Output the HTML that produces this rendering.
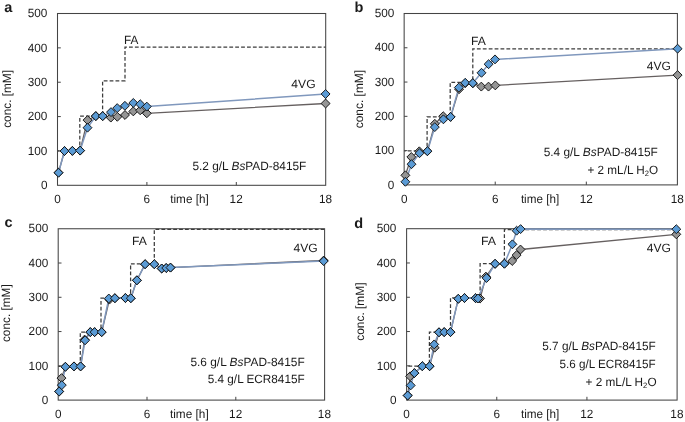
<!DOCTYPE html>
<html><head><meta charset="utf-8"><style>
html,body{margin:0;padding:0;background:#fff;}
body{width:685px;height:422px;overflow:hidden;}
svg{display:block;will-change:transform;}
text{font-family:"Liberation Sans", sans-serif;font-size:12.0px;fill:#1a1a1a;text-rendering:geometricPrecision;}
</style></head><body>
<svg width="685" height="422" viewBox="0 0 685 422">
<rect width="685" height="422" fill="#fff"/>
<path d="M57.5 150.8 L79.8 150.8 L79.8 116.2 L102.6 116.2 L102.6 80.8 L125 80.8 L125 47.1 L325.7 47.1" fill="none" stroke="#3c3c3c" stroke-width="1.25" stroke-dasharray="3.8 2.1" stroke-dashoffset="1.8"/>
<rect x="57.5" y="13.5" width="268.2" height="171.8" fill="none" stroke="#444444" stroke-width="1.05"/>
<path d="M57.5 150.94H60.8" stroke="#444444" stroke-width="1"/>
<path d="M57.5 116.58H60.8" stroke="#444444" stroke-width="1"/>
<path d="M57.5 82.22H60.8" stroke="#444444" stroke-width="1"/>
<path d="M57.5 47.86H60.8" stroke="#444444" stroke-width="1"/>
<path d="M146.9 185.3V182" stroke="#444444" stroke-width="1"/>
<path d="M236.3 185.3V182" stroke="#444444" stroke-width="1"/>
<path d="M58.5 172.7 L64.5 151 L72.4 150.9 L80.1 150.6 L87.5 120.1 L95.8 116.1 L102.7 116.1 L110.8 117.6 L117.3 116.8 L125 115 L133.3 111.4 L140.2 110.3 L146.8 113.3 L325.6 103.5" fill="none" stroke="#666060" stroke-width="1.3" stroke-linejoin="round"/>
<path d="M58.5 172.7 L64.5 151 L72.4 150.9 L80.1 150.6 L87.5 127.7 L95.8 116.1 L102.7 116.1 L111 112.1 L117.2 108.1 L124.9 105.8 L133.3 102.95 L140.2 104.2 L146.8 106.6 L325.6 94" fill="none" stroke="#8098bd" stroke-width="1.5" stroke-linejoin="round"/>
<path d="M58.5 168.25L62.95 172.7L58.5 177.15L54.05 172.7Z" fill="#959595" stroke="#111" stroke-width="0.95"/>
<path d="M64.5 146.55L68.95 151L64.5 155.45L60.05 151Z" fill="#959595" stroke="#111" stroke-width="0.95"/>
<path d="M72.4 146.45L76.85 150.9L72.4 155.35L67.95 150.9Z" fill="#959595" stroke="#111" stroke-width="0.95"/>
<path d="M80.1 146.15L84.55 150.6L80.1 155.05L75.65 150.6Z" fill="#959595" stroke="#111" stroke-width="0.95"/>
<path d="M87.5 115.65L91.95 120.1L87.5 124.55L83.05 120.1Z" fill="#959595" stroke="#111" stroke-width="0.95"/>
<path d="M95.8 111.65L100.25 116.1L95.8 120.55L91.35 116.1Z" fill="#959595" stroke="#111" stroke-width="0.95"/>
<path d="M102.7 111.65L107.15 116.1L102.7 120.55L98.25 116.1Z" fill="#959595" stroke="#111" stroke-width="0.95"/>
<path d="M110.8 113.15L115.25 117.6L110.8 122.05L106.35 117.6Z" fill="#959595" stroke="#111" stroke-width="0.95"/>
<path d="M117.3 112.35L121.75 116.8L117.3 121.25L112.85 116.8Z" fill="#959595" stroke="#111" stroke-width="0.95"/>
<path d="M125 110.55L129.45 115L125 119.45L120.55 115Z" fill="#959595" stroke="#111" stroke-width="0.95"/>
<path d="M133.3 106.95L137.75 111.4L133.3 115.85L128.85 111.4Z" fill="#959595" stroke="#111" stroke-width="0.95"/>
<path d="M140.2 105.85L144.65 110.3L140.2 114.75L135.75 110.3Z" fill="#959595" stroke="#111" stroke-width="0.95"/>
<path d="M146.8 108.85L151.25 113.3L146.8 117.75L142.35 113.3Z" fill="#959595" stroke="#111" stroke-width="0.95"/>
<path d="M325.6 99.05L330.05 103.5L325.6 107.95L321.15 103.5Z" fill="#959595" stroke="#111" stroke-width="0.95"/>
<path d="M58.5 168.25L62.95 172.7L58.5 177.15L54.05 172.7Z" fill="#5b9bd5" stroke="#111" stroke-width="0.95"/>
<path d="M64.5 146.55L68.95 151L64.5 155.45L60.05 151Z" fill="#5b9bd5" stroke="#111" stroke-width="0.95"/>
<path d="M72.4 146.45L76.85 150.9L72.4 155.35L67.95 150.9Z" fill="#5b9bd5" stroke="#111" stroke-width="0.95"/>
<path d="M80.1 146.15L84.55 150.6L80.1 155.05L75.65 150.6Z" fill="#5b9bd5" stroke="#111" stroke-width="0.95"/>
<path d="M87.5 123.25L91.95 127.7L87.5 132.15L83.05 127.7Z" fill="#5b9bd5" stroke="#111" stroke-width="0.95"/>
<path d="M95.8 111.65L100.25 116.1L95.8 120.55L91.35 116.1Z" fill="#5b9bd5" stroke="#111" stroke-width="0.95"/>
<path d="M102.7 111.65L107.15 116.1L102.7 120.55L98.25 116.1Z" fill="#5b9bd5" stroke="#111" stroke-width="0.95"/>
<path d="M111 107.65L115.45 112.1L111 116.55L106.55 112.1Z" fill="#5b9bd5" stroke="#111" stroke-width="0.95"/>
<path d="M117.2 103.65L121.65 108.1L117.2 112.55L112.75 108.1Z" fill="#5b9bd5" stroke="#111" stroke-width="0.95"/>
<path d="M124.9 101.35L129.35 105.8L124.9 110.25L120.45 105.8Z" fill="#5b9bd5" stroke="#111" stroke-width="0.95"/>
<path d="M133.3 98.5L137.75 102.95L133.3 107.4L128.85 102.95Z" fill="#5b9bd5" stroke="#111" stroke-width="0.95"/>
<path d="M140.2 99.75L144.65 104.2L140.2 108.65L135.75 104.2Z" fill="#5b9bd5" stroke="#111" stroke-width="0.95"/>
<path d="M146.8 102.15L151.25 106.6L146.8 111.05L142.35 106.6Z" fill="#5b9bd5" stroke="#111" stroke-width="0.95"/>
<path d="M325.6 89.55L330.05 94L325.6 98.45L321.15 94Z" fill="#5b9bd5" stroke="#111" stroke-width="0.95"/>
<text x="4.3" y="11.6" style="font-weight:bold;font-size:14.5px">a</text>
<path d="M404.3 150.8 L427.1 150.8 L427.1 116.9 L450.2 116.9 L450.2 82.3 L472.8 82.3 L472.8 48.8 L677.4 48.8" fill="none" stroke="#3c3c3c" stroke-width="1.25" stroke-dasharray="3.8 2.1" stroke-dashoffset="2.4"/>
<rect x="404.15" y="13.5" width="273.25" height="171.4" fill="none" stroke="#444444" stroke-width="1.05"/>
<path d="M404.15 150.62H407.45" stroke="#444444" stroke-width="1"/>
<path d="M404.15 116.34H407.45" stroke="#444444" stroke-width="1"/>
<path d="M404.15 82.06H407.45" stroke="#444444" stroke-width="1"/>
<path d="M404.15 47.78H407.45" stroke="#444444" stroke-width="1"/>
<path d="M495.23 184.9V181.6" stroke="#444444" stroke-width="1"/>
<path d="M586.32 184.9V181.6" stroke="#444444" stroke-width="1"/>
<path d="M405.4 175.3 L411.3 157 L419.3 151.3 L427.4 151.2 L434.8 123.8 L443.2 116.2 L450.6 116.9 L459.1 89.2 L465.2 83.2 L472.8 83.3 L481.3 86.6 L488.5 86.6 L495.3 85.4 L677.6 75.1" fill="none" stroke="#666060" stroke-width="1.3" stroke-linejoin="round"/>
<path d="M405.4 181.8 L411.5 164.2 L419.5 153.2 L427.4 151.2 L434.8 127.1 L443.4 119.3 L450.6 116.9 L458.8 87.6 L465.2 82.8 L472.8 83.1 L481.5 72.8 L488.6 64.2 L495 59.4 L677.6 48.7" fill="none" stroke="#8098bd" stroke-width="1.5" stroke-linejoin="round"/>
<path d="M405.4 170.85L409.85 175.3L405.4 179.75L400.95 175.3Z" fill="#959595" stroke="#111" stroke-width="0.95"/>
<path d="M411.3 152.55L415.75 157L411.3 161.45L406.85 157Z" fill="#959595" stroke="#111" stroke-width="0.95"/>
<path d="M419.3 146.85L423.75 151.3L419.3 155.75L414.85 151.3Z" fill="#959595" stroke="#111" stroke-width="0.95"/>
<path d="M427.4 146.75L431.85 151.2L427.4 155.65L422.95 151.2Z" fill="#959595" stroke="#111" stroke-width="0.95"/>
<path d="M434.8 119.35L439.25 123.8L434.8 128.25L430.35 123.8Z" fill="#959595" stroke="#111" stroke-width="0.95"/>
<path d="M443.2 111.75L447.65 116.2L443.2 120.65L438.75 116.2Z" fill="#959595" stroke="#111" stroke-width="0.95"/>
<path d="M450.6 112.45L455.05 116.9L450.6 121.35L446.15 116.9Z" fill="#959595" stroke="#111" stroke-width="0.95"/>
<path d="M459.1 84.75L463.55 89.2L459.1 93.65L454.65 89.2Z" fill="#959595" stroke="#111" stroke-width="0.95"/>
<path d="M465.2 78.75L469.65 83.2L465.2 87.65L460.75 83.2Z" fill="#959595" stroke="#111" stroke-width="0.95"/>
<path d="M472.8 78.85L477.25 83.3L472.8 87.75L468.35 83.3Z" fill="#959595" stroke="#111" stroke-width="0.95"/>
<path d="M481.3 82.15L485.75 86.6L481.3 91.05L476.85 86.6Z" fill="#959595" stroke="#111" stroke-width="0.95"/>
<path d="M488.5 82.15L492.95 86.6L488.5 91.05L484.05 86.6Z" fill="#959595" stroke="#111" stroke-width="0.95"/>
<path d="M495.3 80.95L499.75 85.4L495.3 89.85L490.85 85.4Z" fill="#959595" stroke="#111" stroke-width="0.95"/>
<path d="M677.6 70.65L682.05 75.1L677.6 79.55L673.15 75.1Z" fill="#959595" stroke="#111" stroke-width="0.95"/>
<path d="M405.4 177.35L409.85 181.8L405.4 186.25L400.95 181.8Z" fill="#5b9bd5" stroke="#111" stroke-width="0.95"/>
<path d="M411.5 159.75L415.95 164.2L411.5 168.65L407.05 164.2Z" fill="#5b9bd5" stroke="#111" stroke-width="0.95"/>
<path d="M419.5 148.75L423.95 153.2L419.5 157.65L415.05 153.2Z" fill="#5b9bd5" stroke="#111" stroke-width="0.95"/>
<path d="M427.4 146.75L431.85 151.2L427.4 155.65L422.95 151.2Z" fill="#5b9bd5" stroke="#111" stroke-width="0.95"/>
<path d="M434.8 122.65L439.25 127.1L434.8 131.55L430.35 127.1Z" fill="#5b9bd5" stroke="#111" stroke-width="0.95"/>
<path d="M443.4 114.85L447.85 119.3L443.4 123.75L438.95 119.3Z" fill="#5b9bd5" stroke="#111" stroke-width="0.95"/>
<path d="M450.6 112.45L455.05 116.9L450.6 121.35L446.15 116.9Z" fill="#5b9bd5" stroke="#111" stroke-width="0.95"/>
<path d="M458.8 83.15L463.25 87.6L458.8 92.05L454.35 87.6Z" fill="#5b9bd5" stroke="#111" stroke-width="0.95"/>
<path d="M465.2 78.35L469.65 82.8L465.2 87.25L460.75 82.8Z" fill="#5b9bd5" stroke="#111" stroke-width="0.95"/>
<path d="M472.8 78.65L477.25 83.1L472.8 87.55L468.35 83.1Z" fill="#5b9bd5" stroke="#111" stroke-width="0.95"/>
<path d="M481.5 68.35L485.95 72.8L481.5 77.25L477.05 72.8Z" fill="#5b9bd5" stroke="#111" stroke-width="0.95"/>
<path d="M488.6 59.75L493.05 64.2L488.6 68.65L484.15 64.2Z" fill="#5b9bd5" stroke="#111" stroke-width="0.95"/>
<path d="M495 54.95L499.45 59.4L495 63.85L490.55 59.4Z" fill="#5b9bd5" stroke="#111" stroke-width="0.95"/>
<path d="M677.6 44.25L682.05 48.7L677.6 53.15L673.15 48.7Z" fill="#5b9bd5" stroke="#111" stroke-width="0.95"/>
<text x="354.6" y="11.6" style="font-weight:bold;font-size:14.5px">b</text>
<path d="M58.2 366.3 L80.3 366.3 L80.3 332.1 L101 332.1 L101 298 L130.6 298 L130.6 263.8 L154.3 263.8 L154.3 229.4 L324.4 229.4" fill="none" stroke="#3c3c3c" stroke-width="1.25" stroke-dasharray="3.8 2.1" stroke-dashoffset="1.8"/>
<rect x="58.2" y="228.75" width="266.4" height="171.35" fill="none" stroke="#444444" stroke-width="1.05"/>
<path d="M58.2 365.83H61.5" stroke="#444444" stroke-width="1"/>
<path d="M58.2 331.56H61.5" stroke="#444444" stroke-width="1"/>
<path d="M58.2 297.29H61.5" stroke="#444444" stroke-width="1"/>
<path d="M58.2 263.02H61.5" stroke="#444444" stroke-width="1"/>
<path d="M147 400.1V396.8" stroke="#444444" stroke-width="1"/>
<path d="M235.8 400.1V396.8" stroke="#444444" stroke-width="1"/>
<path d="M59.2 391.5 L61.5 378.1 L65.4 366.8 L74 366.4 L80.6 366.4 L84.6 339.6 L90.3 332.1 L94.6 332.1 L101.7 332.1 L109.4 299.6 L114.9 298.2 L125.4 298 L130.8 298.2 L136.9 280.3 L145.1 264.2 L154.3 264.2 L161.7 268.5 L166.2 268 L170.5 267.6 L323.7 260.5" fill="none" stroke="#666060" stroke-width="1.3" stroke-linejoin="round"/>
<path d="M59.2 391.5 L61.8 385.1 L65.4 366.8 L74 366.4 L80.6 366.4 L85.1 340.3 L90.3 332.1 L94.6 332.1 L101.7 332.1 L108.8 298.5 L114.9 298.2 L125.4 298 L130.8 298.2 L136.9 280.3 L145.1 264.2 L154.3 264.2 L161.7 268.5 L166.2 268 L170.5 267.6 L323.7 261.1" fill="none" stroke="#8098bd" stroke-width="1.5" stroke-linejoin="round"/>
<path d="M59.2 387.05L63.65 391.5L59.2 395.95L54.75 391.5Z" fill="#959595" stroke="#111" stroke-width="0.95"/>
<path d="M61.5 373.65L65.95 378.1L61.5 382.55L57.05 378.1Z" fill="#959595" stroke="#111" stroke-width="0.95"/>
<path d="M65.4 362.35L69.85 366.8L65.4 371.25L60.95 366.8Z" fill="#959595" stroke="#111" stroke-width="0.95"/>
<path d="M74 361.95L78.45 366.4L74 370.85L69.55 366.4Z" fill="#959595" stroke="#111" stroke-width="0.95"/>
<path d="M80.6 361.95L85.05 366.4L80.6 370.85L76.15 366.4Z" fill="#959595" stroke="#111" stroke-width="0.95"/>
<path d="M84.6 335.15L89.05 339.6L84.6 344.05L80.15 339.6Z" fill="#959595" stroke="#111" stroke-width="0.95"/>
<path d="M90.3 327.65L94.75 332.1L90.3 336.55L85.85 332.1Z" fill="#959595" stroke="#111" stroke-width="0.95"/>
<path d="M94.6 327.65L99.05 332.1L94.6 336.55L90.15 332.1Z" fill="#959595" stroke="#111" stroke-width="0.95"/>
<path d="M101.7 327.65L106.15 332.1L101.7 336.55L97.25 332.1Z" fill="#959595" stroke="#111" stroke-width="0.95"/>
<path d="M109.4 295.15L113.85 299.6L109.4 304.05L104.95 299.6Z" fill="#959595" stroke="#111" stroke-width="0.95"/>
<path d="M114.9 293.75L119.35 298.2L114.9 302.65L110.45 298.2Z" fill="#959595" stroke="#111" stroke-width="0.95"/>
<path d="M125.4 293.55L129.85 298L125.4 302.45L120.95 298Z" fill="#959595" stroke="#111" stroke-width="0.95"/>
<path d="M130.8 293.75L135.25 298.2L130.8 302.65L126.35 298.2Z" fill="#959595" stroke="#111" stroke-width="0.95"/>
<path d="M136.9 275.85L141.35 280.3L136.9 284.75L132.45 280.3Z" fill="#959595" stroke="#111" stroke-width="0.95"/>
<path d="M145.1 259.75L149.55 264.2L145.1 268.65L140.65 264.2Z" fill="#959595" stroke="#111" stroke-width="0.95"/>
<path d="M154.3 259.75L158.75 264.2L154.3 268.65L149.85 264.2Z" fill="#959595" stroke="#111" stroke-width="0.95"/>
<path d="M161.7 264.05L166.15 268.5L161.7 272.95L157.25 268.5Z" fill="#959595" stroke="#111" stroke-width="0.95"/>
<path d="M166.2 263.55L170.65 268L166.2 272.45L161.75 268Z" fill="#959595" stroke="#111" stroke-width="0.95"/>
<path d="M170.5 263.15L174.95 267.6L170.5 272.05L166.05 267.6Z" fill="#959595" stroke="#111" stroke-width="0.95"/>
<path d="M323.7 256.05L328.15 260.5L323.7 264.95L319.25 260.5Z" fill="#959595" stroke="#111" stroke-width="0.95"/>
<path d="M59.2 387.05L63.65 391.5L59.2 395.95L54.75 391.5Z" fill="#5b9bd5" stroke="#111" stroke-width="0.95"/>
<path d="M61.8 380.65L66.25 385.1L61.8 389.55L57.35 385.1Z" fill="#5b9bd5" stroke="#111" stroke-width="0.95"/>
<path d="M65.4 362.35L69.85 366.8L65.4 371.25L60.95 366.8Z" fill="#5b9bd5" stroke="#111" stroke-width="0.95"/>
<path d="M74 361.95L78.45 366.4L74 370.85L69.55 366.4Z" fill="#5b9bd5" stroke="#111" stroke-width="0.95"/>
<path d="M80.6 361.95L85.05 366.4L80.6 370.85L76.15 366.4Z" fill="#5b9bd5" stroke="#111" stroke-width="0.95"/>
<path d="M85.1 335.85L89.55 340.3L85.1 344.75L80.65 340.3Z" fill="#5b9bd5" stroke="#111" stroke-width="0.95"/>
<path d="M90.3 327.65L94.75 332.1L90.3 336.55L85.85 332.1Z" fill="#5b9bd5" stroke="#111" stroke-width="0.95"/>
<path d="M94.6 327.65L99.05 332.1L94.6 336.55L90.15 332.1Z" fill="#5b9bd5" stroke="#111" stroke-width="0.95"/>
<path d="M101.7 327.65L106.15 332.1L101.7 336.55L97.25 332.1Z" fill="#5b9bd5" stroke="#111" stroke-width="0.95"/>
<path d="M108.8 294.05L113.25 298.5L108.8 302.95L104.35 298.5Z" fill="#5b9bd5" stroke="#111" stroke-width="0.95"/>
<path d="M114.9 293.75L119.35 298.2L114.9 302.65L110.45 298.2Z" fill="#5b9bd5" stroke="#111" stroke-width="0.95"/>
<path d="M125.4 293.55L129.85 298L125.4 302.45L120.95 298Z" fill="#5b9bd5" stroke="#111" stroke-width="0.95"/>
<path d="M130.8 293.75L135.25 298.2L130.8 302.65L126.35 298.2Z" fill="#5b9bd5" stroke="#111" stroke-width="0.95"/>
<path d="M136.9 275.85L141.35 280.3L136.9 284.75L132.45 280.3Z" fill="#5b9bd5" stroke="#111" stroke-width="0.95"/>
<path d="M145.1 259.75L149.55 264.2L145.1 268.65L140.65 264.2Z" fill="#5b9bd5" stroke="#111" stroke-width="0.95"/>
<path d="M154.3 259.75L158.75 264.2L154.3 268.65L149.85 264.2Z" fill="#5b9bd5" stroke="#111" stroke-width="0.95"/>
<path d="M161.7 264.05L166.15 268.5L161.7 272.95L157.25 268.5Z" fill="#5b9bd5" stroke="#111" stroke-width="0.95"/>
<path d="M166.2 263.55L170.65 268L166.2 272.45L161.75 268Z" fill="#5b9bd5" stroke="#111" stroke-width="0.95"/>
<path d="M170.5 263.15L174.95 267.6L170.5 272.05L166.05 267.6Z" fill="#5b9bd5" stroke="#111" stroke-width="0.95"/>
<path d="M323.7 256.65L328.15 261.1L323.7 265.55L319.25 261.1Z" fill="#5b9bd5" stroke="#111" stroke-width="0.95"/>
<text x="4.5" y="227.3" style="font-weight:bold;font-size:14.5px">c</text>
<path d="M406.6 366.2 L429.4 366.2 L429.4 332.2 L450.5 332.2 L450.5 297.8 L480.1 297.8 L480.1 263.7 L504.4 263.7 L504.4 229.5 L677.1 229.5" fill="none" stroke="#3c3c3c" stroke-width="1.25" stroke-dasharray="3.8 2.1" stroke-dashoffset="4.1"/>
<rect x="406.6" y="228.7" width="270.5" height="171.4" fill="none" stroke="#444444" stroke-width="1.05"/>
<path d="M406.6 365.82H409.9" stroke="#444444" stroke-width="1"/>
<path d="M406.6 331.54H409.9" stroke="#444444" stroke-width="1"/>
<path d="M406.6 297.26H409.9" stroke="#444444" stroke-width="1"/>
<path d="M406.6 262.98H409.9" stroke="#444444" stroke-width="1"/>
<path d="M496.77 400.1V396.8" stroke="#444444" stroke-width="1"/>
<path d="M586.93 400.1V396.8" stroke="#444444" stroke-width="1"/>
<path d="M407.7 395.5 L410.1 376.3 L414.4 373.1 L422.3 366.2 L429.6 366.2 L434.7 347.7 L439 332.3 L444.2 332.1 L450.5 332.1 L458.3 298.8 L464.5 298 L475.6 298.2 L480.1 298.5 L485.9 276.6 L495.1 263.8 L504.4 263.7 L512.2 261 L516.6 255.1 L520.5 249.5 L676.3 234.3" fill="none" stroke="#666060" stroke-width="1.3" stroke-linejoin="round"/>
<path d="M407.7 395.5 L410.7 385.4 L414.4 373.1 L422.3 366.2 L429.6 366.2 L434.2 344.4 L439 332.3 L444.2 332.1 L450.5 332.1 L458.3 298.8 L464.5 298 L475.6 298.2 L478 298.5 L486.6 278 L495.1 263.8 L504.4 263.7 L512.4 244.3 L516.6 230.7 L520.6 229.1 L676.3 229.2" fill="none" stroke="#8098bd" stroke-width="1.5" stroke-linejoin="round"/>
<path d="M407.7 391.05L412.15 395.5L407.7 399.95L403.25 395.5Z" fill="#959595" stroke="#111" stroke-width="0.95"/>
<path d="M410.1 371.85L414.55 376.3L410.1 380.75L405.65 376.3Z" fill="#959595" stroke="#111" stroke-width="0.95"/>
<path d="M414.4 368.65L418.85 373.1L414.4 377.55L409.95 373.1Z" fill="#959595" stroke="#111" stroke-width="0.95"/>
<path d="M422.3 361.75L426.75 366.2L422.3 370.65L417.85 366.2Z" fill="#959595" stroke="#111" stroke-width="0.95"/>
<path d="M429.6 361.75L434.05 366.2L429.6 370.65L425.15 366.2Z" fill="#959595" stroke="#111" stroke-width="0.95"/>
<path d="M434.7 343.25L439.15 347.7L434.7 352.15L430.25 347.7Z" fill="#959595" stroke="#111" stroke-width="0.95"/>
<path d="M439 327.85L443.45 332.3L439 336.75L434.55 332.3Z" fill="#959595" stroke="#111" stroke-width="0.95"/>
<path d="M444.2 327.65L448.65 332.1L444.2 336.55L439.75 332.1Z" fill="#959595" stroke="#111" stroke-width="0.95"/>
<path d="M450.5 327.65L454.95 332.1L450.5 336.55L446.05 332.1Z" fill="#959595" stroke="#111" stroke-width="0.95"/>
<path d="M458.3 294.35L462.75 298.8L458.3 303.25L453.85 298.8Z" fill="#959595" stroke="#111" stroke-width="0.95"/>
<path d="M464.5 293.55L468.95 298L464.5 302.45L460.05 298Z" fill="#959595" stroke="#111" stroke-width="0.95"/>
<path d="M475.6 293.75L480.05 298.2L475.6 302.65L471.15 298.2Z" fill="#959595" stroke="#111" stroke-width="0.95"/>
<path d="M480.1 294.05L484.55 298.5L480.1 302.95L475.65 298.5Z" fill="#959595" stroke="#111" stroke-width="0.95"/>
<path d="M485.9 272.15L490.35 276.6L485.9 281.05L481.45 276.6Z" fill="#959595" stroke="#111" stroke-width="0.95"/>
<path d="M495.1 259.35L499.55 263.8L495.1 268.25L490.65 263.8Z" fill="#959595" stroke="#111" stroke-width="0.95"/>
<path d="M504.4 259.25L508.85 263.7L504.4 268.15L499.95 263.7Z" fill="#959595" stroke="#111" stroke-width="0.95"/>
<path d="M512.2 256.55L516.65 261L512.2 265.45L507.75 261Z" fill="#959595" stroke="#111" stroke-width="0.95"/>
<path d="M516.6 250.65L521.05 255.1L516.6 259.55L512.15 255.1Z" fill="#959595" stroke="#111" stroke-width="0.95"/>
<path d="M520.5 245.05L524.95 249.5L520.5 253.95L516.05 249.5Z" fill="#959595" stroke="#111" stroke-width="0.95"/>
<path d="M676.3 229.85L680.75 234.3L676.3 238.75L671.85 234.3Z" fill="#959595" stroke="#111" stroke-width="0.95"/>
<path d="M407.7 391.05L412.15 395.5L407.7 399.95L403.25 395.5Z" fill="#5b9bd5" stroke="#111" stroke-width="0.95"/>
<path d="M410.7 380.95L415.15 385.4L410.7 389.85L406.25 385.4Z" fill="#5b9bd5" stroke="#111" stroke-width="0.95"/>
<path d="M414.4 368.65L418.85 373.1L414.4 377.55L409.95 373.1Z" fill="#5b9bd5" stroke="#111" stroke-width="0.95"/>
<path d="M422.3 361.75L426.75 366.2L422.3 370.65L417.85 366.2Z" fill="#5b9bd5" stroke="#111" stroke-width="0.95"/>
<path d="M429.6 361.75L434.05 366.2L429.6 370.65L425.15 366.2Z" fill="#5b9bd5" stroke="#111" stroke-width="0.95"/>
<path d="M434.2 339.95L438.65 344.4L434.2 348.85L429.75 344.4Z" fill="#5b9bd5" stroke="#111" stroke-width="0.95"/>
<path d="M439 327.85L443.45 332.3L439 336.75L434.55 332.3Z" fill="#5b9bd5" stroke="#111" stroke-width="0.95"/>
<path d="M444.2 327.65L448.65 332.1L444.2 336.55L439.75 332.1Z" fill="#5b9bd5" stroke="#111" stroke-width="0.95"/>
<path d="M450.5 327.65L454.95 332.1L450.5 336.55L446.05 332.1Z" fill="#5b9bd5" stroke="#111" stroke-width="0.95"/>
<path d="M458.3 294.35L462.75 298.8L458.3 303.25L453.85 298.8Z" fill="#5b9bd5" stroke="#111" stroke-width="0.95"/>
<path d="M464.5 293.55L468.95 298L464.5 302.45L460.05 298Z" fill="#5b9bd5" stroke="#111" stroke-width="0.95"/>
<path d="M475.6 293.75L480.05 298.2L475.6 302.65L471.15 298.2Z" fill="#5b9bd5" stroke="#111" stroke-width="0.95"/>
<path d="M478 294.05L482.45 298.5L478 302.95L473.55 298.5Z" fill="#5b9bd5" stroke="#111" stroke-width="0.95"/>
<path d="M486.6 273.55L491.05 278L486.6 282.45L482.15 278Z" fill="#5b9bd5" stroke="#111" stroke-width="0.95"/>
<path d="M495.1 259.35L499.55 263.8L495.1 268.25L490.65 263.8Z" fill="#5b9bd5" stroke="#111" stroke-width="0.95"/>
<path d="M504.4 259.25L508.85 263.7L504.4 268.15L499.95 263.7Z" fill="#5b9bd5" stroke="#111" stroke-width="0.95"/>
<path d="M512.4 239.85L516.85 244.3L512.4 248.75L507.95 244.3Z" fill="#5b9bd5" stroke="#111" stroke-width="0.95"/>
<path d="M516.6 226.25L521.05 230.7L516.6 235.15L512.15 230.7Z" fill="#5b9bd5" stroke="#111" stroke-width="0.95"/>
<path d="M520.6 224.65L525.05 229.1L520.6 233.55L516.15 229.1Z" fill="#5b9bd5" stroke="#111" stroke-width="0.95"/>
<path d="M676.3 224.75L680.75 229.2L676.3 233.65L671.85 229.2Z" fill="#5b9bd5" stroke="#111" stroke-width="0.95"/>
<text x="354.2" y="227.7" style="font-weight:bold;font-size:14.5px">d</text>
<text x="40.88" y="189" textLength="6.54" lengthAdjust="spacingAndGlyphs">0</text>
<text x="27.8" y="154.64" textLength="19.62" lengthAdjust="spacingAndGlyphs">100</text>
<text x="27.8" y="120.28" textLength="19.62" lengthAdjust="spacingAndGlyphs">200</text>
<text x="27.8" y="85.92" textLength="19.62" lengthAdjust="spacingAndGlyphs">300</text>
<text x="27.8" y="51.56" textLength="19.62" lengthAdjust="spacingAndGlyphs">400</text>
<text x="27.8" y="17.2" textLength="19.62" lengthAdjust="spacingAndGlyphs">500</text>
<text x="54.27" y="202.7" textLength="6.54" lengthAdjust="spacingAndGlyphs">0</text>
<text x="143.55" y="202.7" textLength="6.54" lengthAdjust="spacingAndGlyphs">6</text>
<text x="229.62" y="202.7" textLength="13.08" lengthAdjust="spacingAndGlyphs">12</text>
<text x="318.96" y="202.7" textLength="13.08" lengthAdjust="spacingAndGlyphs">18</text>
<text x="170.28" y="202.7" textLength="38.41" lengthAdjust="spacingAndGlyphs">time [h]</text>
<text transform="rotate(-90)" x="-127.87" y="10.7" textLength="57.88" lengthAdjust="spacingAndGlyphs">conc. [mM]</text>
<text x="123.96" y="43.7" textLength="14.41" lengthAdjust="spacingAndGlyphs">FA</text>
<text x="291.36" y="87.9" textLength="24.16" lengthAdjust="spacingAndGlyphs">4VG</text>
<text x="192.43" y="169.8" textLength="113.94" lengthAdjust="spacingAndGlyphs">5.2 g/L <tspan style="font-style:italic">Bs</tspan>PAD-8415F</text>
<text x="387.78" y="188.6" textLength="6.54" lengthAdjust="spacingAndGlyphs">0</text>
<text x="374.7" y="154.32" textLength="19.62" lengthAdjust="spacingAndGlyphs">100</text>
<text x="374.7" y="120.04" textLength="19.62" lengthAdjust="spacingAndGlyphs">200</text>
<text x="374.7" y="85.76" textLength="19.62" lengthAdjust="spacingAndGlyphs">300</text>
<text x="374.7" y="51.48" textLength="19.62" lengthAdjust="spacingAndGlyphs">400</text>
<text x="374.7" y="17.2" textLength="19.62" lengthAdjust="spacingAndGlyphs">500</text>
<text x="400.92" y="202.5" textLength="6.54" lengthAdjust="spacingAndGlyphs">0</text>
<text x="491.88" y="202.5" textLength="6.54" lengthAdjust="spacingAndGlyphs">6</text>
<text x="579.64" y="202.5" textLength="13.08" lengthAdjust="spacingAndGlyphs">12</text>
<text x="670.66" y="202.5" textLength="13.08" lengthAdjust="spacingAndGlyphs">18</text>
<text x="520.88" y="202.7" textLength="38.31" lengthAdjust="spacingAndGlyphs">time [h]</text>
<text transform="rotate(-90)" x="-128.28" y="362.9" textLength="58.39" lengthAdjust="spacingAndGlyphs">conc. [mM]</text>
<text x="471.13" y="44.8" textLength="14.83" lengthAdjust="spacingAndGlyphs">FA</text>
<text x="646.76" y="69.9" textLength="24.06" lengthAdjust="spacingAndGlyphs">4VG</text>
<text x="543.63" y="156.1" textLength="114.24" lengthAdjust="spacingAndGlyphs">5.4 g/L <tspan style="font-style:italic">Bs</tspan>PAD-8415F</text>
<text x="587.53" y="173.6" textLength="70.52" lengthAdjust="spacingAndGlyphs">+ 2 mL/L H<tspan style="font-size:7.8px" dy="2.4">2</tspan><tspan dy="-2.4">O</tspan></text>
<text x="41.68" y="403.8" textLength="6.54" lengthAdjust="spacingAndGlyphs">0</text>
<text x="28.6" y="369.53" textLength="19.62" lengthAdjust="spacingAndGlyphs">100</text>
<text x="28.6" y="335.26" textLength="19.62" lengthAdjust="spacingAndGlyphs">200</text>
<text x="28.6" y="300.99" textLength="19.62" lengthAdjust="spacingAndGlyphs">300</text>
<text x="28.6" y="266.72" textLength="19.62" lengthAdjust="spacingAndGlyphs">400</text>
<text x="28.6" y="232.45" textLength="19.62" lengthAdjust="spacingAndGlyphs">500</text>
<text x="54.97" y="417.7" textLength="6.54" lengthAdjust="spacingAndGlyphs">0</text>
<text x="143.65" y="417.7" textLength="6.54" lengthAdjust="spacingAndGlyphs">6</text>
<text x="229.12" y="417.7" textLength="13.08" lengthAdjust="spacingAndGlyphs">12</text>
<text x="317.86" y="417.7" textLength="13.08" lengthAdjust="spacingAndGlyphs">18</text>
<text x="169.98" y="417.7" textLength="38.72" lengthAdjust="spacingAndGlyphs">time [h]</text>
<text transform="rotate(-90)" x="-342.07" y="10" textLength="57.77" lengthAdjust="spacingAndGlyphs">conc. [mM]</text>
<text x="131.93" y="244.5" textLength="14.83" lengthAdjust="spacingAndGlyphs">FA</text>
<text x="293.46" y="251.9" textLength="24.16" lengthAdjust="spacingAndGlyphs">4VG</text>
<text x="190.43" y="365.6" textLength="114.24" lengthAdjust="spacingAndGlyphs">5.6 g/L <tspan style="font-style:italic">Bs</tspan>PAD-8415F</text>
<text x="207.73" y="383.1" textLength="96.93" lengthAdjust="spacingAndGlyphs">5.4 g/L ECR8415F</text>
<text x="389.88" y="403.8" textLength="6.54" lengthAdjust="spacingAndGlyphs">0</text>
<text x="376.8" y="369.52" textLength="19.62" lengthAdjust="spacingAndGlyphs">100</text>
<text x="376.8" y="335.24" textLength="19.62" lengthAdjust="spacingAndGlyphs">200</text>
<text x="376.8" y="300.96" textLength="19.62" lengthAdjust="spacingAndGlyphs">300</text>
<text x="376.8" y="266.68" textLength="19.62" lengthAdjust="spacingAndGlyphs">400</text>
<text x="376.8" y="232.4" textLength="19.62" lengthAdjust="spacingAndGlyphs">500</text>
<text x="403.37" y="417.7" textLength="6.54" lengthAdjust="spacingAndGlyphs">0</text>
<text x="493.42" y="417.7" textLength="6.54" lengthAdjust="spacingAndGlyphs">6</text>
<text x="580.25" y="417.7" textLength="13.08" lengthAdjust="spacingAndGlyphs">12</text>
<text x="670.36" y="417.7" textLength="13.08" lengthAdjust="spacingAndGlyphs">18</text>
<text x="520.88" y="417.7" textLength="38.51" lengthAdjust="spacingAndGlyphs">time [h]</text>
<text transform="rotate(-90)" x="-340.78" y="364.3" textLength="58.29" lengthAdjust="spacingAndGlyphs">conc. [mM]</text>
<text x="480.91" y="244.7" textLength="15.15" lengthAdjust="spacingAndGlyphs">FA</text>
<text x="646.76" y="252.1" textLength="24.06" lengthAdjust="spacingAndGlyphs">4VG</text>
<text x="542.23" y="350.4" textLength="113.53" lengthAdjust="spacingAndGlyphs">5.7 g/L <tspan style="font-style:italic">Bs</tspan>PAD-8415F</text>
<text x="559.43" y="368.2" textLength="96.32" lengthAdjust="spacingAndGlyphs">5.6 g/L ECR8415F</text>
<text x="585.53" y="386" textLength="71.03" lengthAdjust="spacingAndGlyphs">+ 2 mL/L H<tspan style="font-size:7.8px" dy="2.4">2</tspan><tspan dy="-2.4">O</tspan></text>
</svg>
</body></html>
